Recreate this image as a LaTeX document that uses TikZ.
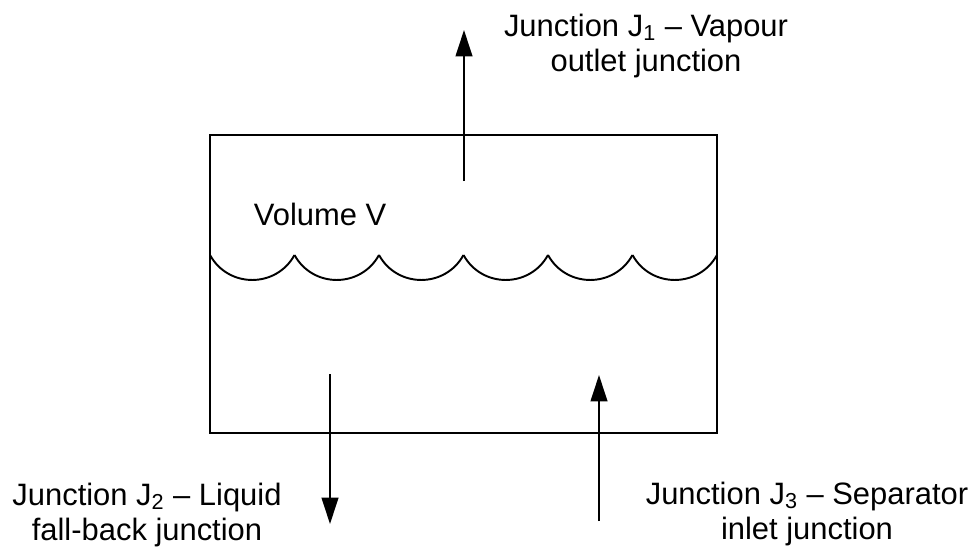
\documentclass[tikz,border=0pt]{standalone}
\usepackage{fontspec}
\setmainfont{Liberation Sans}
\usepackage{tikz}
\usetikzlibrary{arrows.meta, positioning}

\begin{document}
\begin{tikzpicture}[x=0.02cm, y=-0.02cm, line width=1.1pt,
    flow/.style={-{Triangle[length=15pt, width=9.5pt]}},
    junctionlabel/.style={align=center, inner sep=0pt, font=\fontsize{17.6}{19.9}\selectfont}]
        \useasboundingbox (0,0) rectangle (975,548);

        % Separator volume
        \node (vessel) [draw, rectangle, inner sep=0pt, minimum width=10.14cm, minimum height=5.96cm] at (463.5,284) {};
        \node (volume) [anchor=base west, inner sep=0pt, font=\fontsize{17.6}{19.9}\selectfont] at (253,225) {Volume V};

        % Liquid surface
        \foreach \i in {0,...,5}
            \draw ({210+84.5*\i},255) .. controls +(18.3,33.3) and +(-18.3,33.3) .. ({210+84.5*(\i+1)},255);

        % Junction labels
        \node (jone) [junctionlabel, anchor=base] at (646,71) {Junction J\textsubscript{1} – Vapour\\outlet junction};
        \node (jtwo) [junctionlabel, anchor=base] at (147,540) {Junction J\textsubscript{2} – Liquid\\fall-back junction};
        \node (jthree) [junctionlabel, anchor=base] at (807,539) {Junction J\textsubscript{3} – Separator\\inlet junction};

        % Arrow ends
        \coordinate (jonestart) at (464,181);
        \coordinate (joneend) at (464,30);
        \coordinate (jtwostart) at (330,374);
        \coordinate (jtwoend) at (330,524);
        \coordinate (jthreestart) at (599,521);
        \coordinate (jthreeend) at (599,375);

        % Arrows
        \draw[flow] (jonestart) -- (joneend);
        \draw[flow] (jtwostart) -- (jtwoend);
        \draw[flow] (jthreestart) -- (jthreeend);
    \end{tikzpicture}
\end{document}
